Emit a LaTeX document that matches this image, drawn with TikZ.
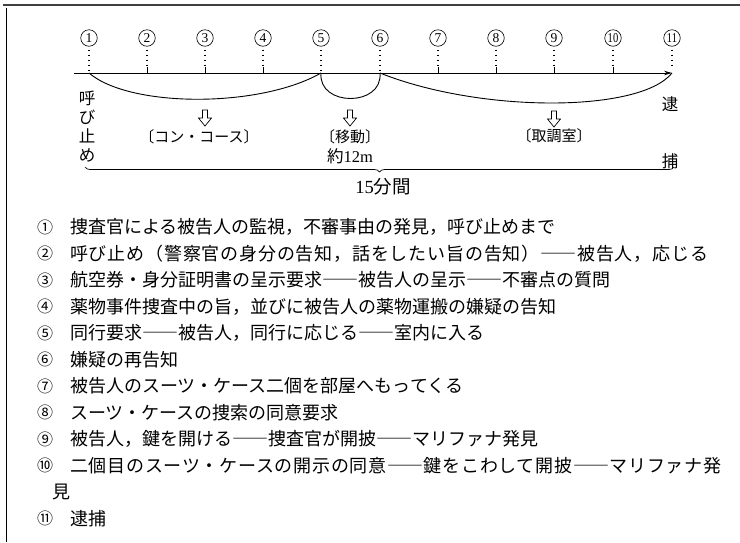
\documentclass[tikz,border=0pt]{standalone}
\usepackage{fontspec}
\setmainfont{Liberation Serif}
\newfontfamily\jp{Noto Sans CJK JP}
\usetikzlibrary{arrows.meta,decorations.pathreplacing}
\begin{document}
\begin{tikzpicture}[x=1pt,y=-1pt,
 num/.style={circle,draw,line width=0.6pt,inner sep=0pt,minimum size=16.5pt,font=\fontsize{13.5}{13.5}\selectfont},
 dots/.style={line width=1.5pt,dash pattern=on 1.5pt off 3.5pt,shorten <=3pt},
 tickline/.style={line width=0.8pt},
 curve/.style={line width=0.9pt},
 lbl/.style={inner sep=0pt,font=\jp\fontsize{15}{17}\selectfont},
 vlbl/.style={inner sep=0pt,align=center,font=\jp\fontsize{16.5}{19}\selectfont},
 row/.style={anchor=west,inner sep=0pt,font=\jp\fontsize{18}{20}\selectfont},
 rnum/.style={inner sep=0pt,font=\jp\fontsize{16}{16}\selectfont},
 hollow/.pic={\draw[line width=0.7pt] (-2.5,0) -- (2.5,0) -- (2.5,8) -- (6.5,8) -- (0,16) -- (-6.5,8) -- (-2.5,8) -- cycle;}
]
\useasboundingbox (0,0) rectangle (740,542);
% frame
\draw[line width=1.2pt,black!75] (3,5) -- (740,5);
\draw[line width=1pt] (6,8) -- (6,542);
% numbers and positions on the time line
\foreach \i/\x in {1/89,2/147,3/205,4/263,5/321,6/380,7/438,8/496,9/554}{
  \node[num] (n\i) at (\x,38) {\i};
  \coordinate (p\i) at (\x,73);
  \coordinate (q\i) at (\x,67);
}
\node[num] (n10) at (613,38) {\scalebox{0.78}[1]{10}};
\coordinate (p10) at (613,73); \coordinate (q10) at (613,67);
\node[num] (n11) at (672,38) {\scalebox{0.78}[1]{11}};
\coordinate (p11) at (672,73); \coordinate (q11) at (672,68);
\coordinate (start) at (74,73);
% dotted guides
\foreach \i in {1,5,6}{\draw[dots] (n\i.south) -- (p\i);}
\foreach \i in {2,3,4,7,8,9,10}{\draw[dots] (n\i.south) -- (q\i); \draw[tickline] (q\i) -- (p\i);}
\draw[dots] (n11.south) -- (q11);
% time line
\draw[curve,-{Stealth[length=8pt,width=4.5pt]}] (start) -- (p11);
\draw[curve] (p1) .. controls (130,108) and (260,108) .. (p5);
\draw[curve] (p5) .. controls (318,107) and (383,107) .. (p6);
\draw[curve] (p6) .. controls (480,113) and (640,113) .. (p11);
% hollow arrows
\pic at (205,110) {hollow};
\pic at (350,110) {hollow};
\pic at (554,111) {hollow};
% labels
\node[lbl] (cc) at (199,137) {〔コン・コース〕};
\node[lbl] (ido) at (350,137) {〔移動〕};
\node[lbl,font=\jp\fontsize{16.5}{18}\selectfont] (yaku) at (350,156) {約{\rmfamily 12m}};
\node[lbl] (tori) at (554,136) {〔取調室〕};
\node[vlbl] (yobi) at (87,127) {呼\\び\\止\\め};
\node[inner sep=0pt,align=center,font=\jp\fontsize{16.5}{57}\selectfont] (taiho) at (670,133) {逮\\捕};
% brace
\coordinate (bl) at (85,167);
\coordinate (br) at (674,167);
\draw[line width=0.7pt,decorate,decoration={brace,amplitude=5pt}] (br) -- (bl);
\node[lbl,font=\jp\fontsize{18.5}{20}\selectfont] (dur) at (383,187) {{\rmfamily 15}分間};
% list
\node[rnum] (c1) at (45,227) {①};
\node[row] (r1) at (70,227) {捜査官による被告人の監視，不審事由の発見，呼び止めまで};
\node[rnum] (c2) at (45,253.5) {②};
\node[row] (r2) at (70,253.5) {\addfontfeature{LetterSpace=4.5}呼び止め（警察官の身分の告知，話をしたい旨の告知）――被告人，応じる};
\node[rnum] (c3) at (45,280) {③};
\node[row] (r3) at (70,280) {航空券・身分証明書の呈示要求――被告人の呈示――不審点の質問};
\node[rnum] (c4) at (45,306.5) {④};
\node[row] (r4) at (70,306.5) {薬物事件捜査中の旨，並びに被告人の薬物運搬の嫌疑の告知};
\node[rnum] (c5) at (45,333) {⑤};
\node[row] (r5) at (70,333) {同行要求――被告人，同行に応じる――室内に入る};
\node[rnum] (c6) at (45,359.5) {⑥};
\node[row] (r6) at (70,359.5) {嫌疑の再告知};
\node[rnum] (c7) at (45,386) {⑦};
\node[row] (r7) at (70,386) {被告人のスーツ・ケース二個を部屋へもってくる};
\node[rnum] (c8) at (45,412.5) {⑧};
\node[row] (r8) at (70,412.5) {スーツ・ケースの捜索の同意要求};
\node[rnum] (c9) at (45,439) {⑨};
\node[row] (r9) at (70,439) {被告人，鍵を開ける――捜査官が開披――マリファナ発見};
\node[rnum] (c10) at (45,465.5) {⑩};
\node[row] (r10) at (70,465.5) {\addfontfeature{LetterSpace=4}二個目のスーツ・ケースの開示の同意――鍵をこわして開披――マリファナ発};
\node[row] (r10b) at (52,492) {見};
\node[rnum] (c11) at (45,518.5) {⑪};
\node[row] (r11) at (70,518.5) {逮捕};
\end{tikzpicture}
\end{document}
